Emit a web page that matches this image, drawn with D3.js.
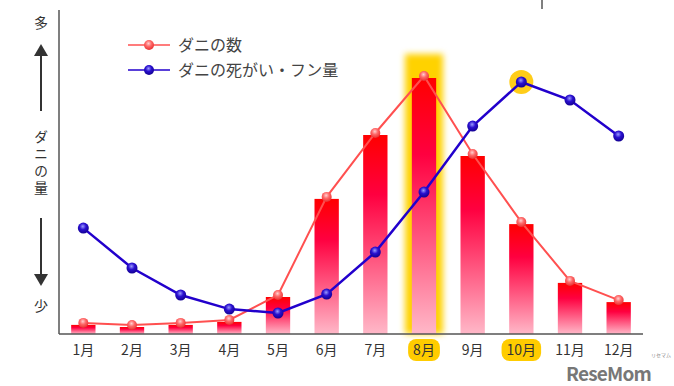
<!DOCTYPE html>
<html>
<meta charset="utf-8">
<style>
  body { margin: 0; background: #fff; }
  text { font-family: "Noto Sans CJK JP", "Noto Sans", sans-serif; }
</style>
<body>
<script src="https://d3js.org/d3.v7.min.js"></script>
<script>
// data (relative amount, 0-100)
var months = ['1月', '2月', '3月', '4月', '5月', '6月', '7月', '8月', '9月', '10月', '11月', '12月'];
var daniCount = [3.7, 3, 3.7, 4.7, 13, 45.7, 67, 86, 60, 37.3, 17.7, 11.3];
var daniDust = [35.3, 22, 13, 8.3, 7, 13.3, 27.3, 47.3, 69.3, 84, 78, 66];
var seriesNames = ['ダニの数', 'ダニの死がい・フン量'];
var highlightBar = '8月';
var highlightPoint = '10月';

var width = 674, height = 386;
var margin = { top: 10, right: 31, bottom: 52, left: 59 };

var svg = d3.select('body').append('svg')
  .attr('width', width)
  .attr('height', height);

var defs = svg.append('defs');

var barGrad = defs.append('linearGradient')
  .attr('id', 'barGrad')
  .attr('x1', 0).attr('y1', 0).attr('x2', 0).attr('y2', 1);
barGrad.append('stop').attr('offset', '0%').attr('stop-color', '#ff0000');
barGrad.append('stop').attr('offset', '30%').attr('stop-color', '#ff0040');
barGrad.append('stop').attr('offset', '100%').attr('stop-color', '#ffb8c8');

function ballGrad(id, light, mid, dark) {
  var g = defs.append('radialGradient').attr('id', id)
    .attr('cx', '45%').attr('cy', '35%').attr('r', '65%');
  g.append('stop').attr('offset', '0%').attr('stop-color', light);
  g.append('stop').attr('offset', '45%').attr('stop-color', mid);
  g.append('stop').attr('offset', '100%').attr('stop-color', dark);
}
ballGrad('redBall', '#ffd0d0', '#ff6a6a', '#e83030');
ballGrad('blueBall', '#9a9aff', '#2a10d0', '#120090');

var glow = defs.append('filter').attr('id', 'glow')
  .attr('x', '-50%').attr('y', '-20%').attr('width', '200%').attr('height', '140%');
glow.append('feGaussianBlur').attr('stdDeviation', 3);

var x = d3.scaleBand()
  .domain(months)
  .range([margin.left, width - margin.right])
  .paddingInner(0.5)
  .paddingOuter(0.25);

var y = d3.scaleLinear()
  .domain([0, 100])
  .range([height - margin.bottom, 34]);

var cx = function(m) { return x(m) + x.bandwidth() / 2; };

// highlight glow behind the August bar
var hb = months.indexOf(highlightBar);
svg.append('rect')
  .attr('x', cx(highlightBar) - 19)
  .attr('y', y(daniCount[hb]) - 22)
  .attr('width', 38)
  .attr('height', y(0) - y(daniCount[hb]) + 22)
  .attr('fill', '#ffd200')
  .attr('filter', 'url(#glow)');

// bars
svg.append('g').selectAll('rect')
  .data(daniCount)
  .join('rect')
  .attr('x', function(d, i) { return x(months[i]); })
  .attr('y', function(d) { return y(d) + 2; })
  .attr('width', x.bandwidth())
  .attr('height', function(d) { return y(0) - y(d) - 2; })
  .attr('fill', 'url(#barGrad)');

// axes lines
svg.append('line')
  .attr('x1', margin.left).attr('x2', margin.left)
  .attr('y1', margin.top).attr('y2', y(0))
  .attr('stroke', '#555').attr('stroke-width', 1.5);
svg.append('line')
  .attr('x1', margin.left).attr('x2', width - margin.right)
  .attr('y1', y(0)).attr('y2', y(0))
  .attr('stroke', '#555').attr('stroke-width', 1.5);

var line = d3.line()
  .x(function(d, i) { return cx(months[i]); })
  .y(function(d) { return y(d); });

// yellow circle behind the October point
var hp = months.indexOf(highlightPoint);
svg.append('circle')
  .attr('cx', cx(highlightPoint))
  .attr('cy', y(daniDust[hp]))
  .attr('r', 12)
  .attr('fill', '#ffc800')
  .attr('opacity', 0.9);

svg.append('path')
  .datum(daniCount)
  .attr('d', line)
  .attr('fill', 'none')
  .attr('stroke', '#ff5050')
  .attr('stroke-width', 2);

svg.append('path')
  .datum(daniDust)
  .attr('d', line)
  .attr('fill', 'none')
  .attr('stroke', '#2200cc')
  .attr('stroke-width', 2.5);

svg.append('g').selectAll('circle')
  .data(daniCount)
  .join('circle')
  .attr('cx', function(d, i) { return cx(months[i]); })
  .attr('cy', function(d) { return y(d); })
  .attr('r', 5)
  .attr('fill', 'url(#redBall)');

svg.append('g').selectAll('circle')
  .data(daniDust)
  .join('circle')
  .attr('cx', function(d, i) { return cx(months[i]); })
  .attr('cy', function(d) { return y(d); })
  .attr('r', 5.5)
  .attr('fill', 'url(#blueBall)');

// month labels
var xl = svg.append('g').selectAll('g')
  .data(months)
  .join('g')
  .attr('transform', function(d) { return 'translate(' + cx(d) + ',' + (y(0) + 16) + ')'; });

var pill = xl.filter(function(d) { return d === highlightBar || d === highlightPoint; })
  .append('rect')
  .attr('y', -11)
  .attr('height', 22)
  .attr('rx', 8)
  .attr('fill', '#ffcc00');

xl.append('text')
  .attr('text-anchor', 'middle')
  .attr('dy', '0.35em')
  .attr('font-size', 14)
  .attr('fill', '#333')
  .text(function(d) { return d; });

pill.each(function() {
  var w = this.parentNode.querySelector('text').getComputedTextLength() + 10;
  d3.select(this).attr('x', -w / 2).attr('width', w);
});

// y axis label with arrows
var yl = svg.append('g').attr('fill', '#333').attr('font-size', 14);
yl.append('text').attr('x', 41).attr('y', 23).attr('text-anchor', 'middle').attr('dy', '0.35em').text('多');
yl.append('text').attr('x', 41).attr('y', 306).attr('text-anchor', 'middle').attr('dy', '0.35em').text('少');
yl.append('text')
  .attr('x', 41).attr('y', 130)
  .attr('writing-mode', 'tb')
  .attr('glyph-orientation-vertical', 0)
  .attr('text-anchor', 'start')
  .attr('letter-spacing', 3)
  .text('ダニの量');

var arrows = svg.append('g').attr('stroke', '#333').attr('stroke-width', 2);
arrows.append('line').attr('x1', 41).attr('x2', 41).attr('y1', 55).attr('y2', 111);
arrows.append('line').attr('x1', 41).attr('x2', 41).attr('y1', 218).attr('y2', 275);
svg.append('path').attr('d', 'M34,56 L41,44 L48,56 Z').attr('fill', '#333');
svg.append('path').attr('d', 'M34,274 L41,286 L48,274 Z').attr('fill', '#333');

// legend
var legend = svg.append('g').selectAll('g')
  .data(seriesNames)
  .join('g')
  .attr('transform', function(d, i) { return 'translate(128,' + (45 + i * 25) + ')'; });
legend.append('line')
  .attr('x1', 0).attr('x2', 42)
  .attr('stroke', function(d, i) { return i ? '#2200cc' : '#ff5050'; })
  .attr('stroke-width', 1.5);
legend.append('circle')
  .attr('cx', 21).attr('r', 5)
  .attr('fill', function(d, i) { return i ? 'url(#blueBall)' : 'url(#redBall)'; });
legend.append('text')
  .attr('x', 50)
  .attr('dy', '0.35em')
  .attr('font-size', 16)
  .attr('fill', '#444')
  .text(function(d) { return d; });

// watermark
svg.append('text')
  .attr('x', 566).attr('y', 381)
  .attr('font-family', 'Roboto, sans-serif')
  .attr('font-weight', 'bold')
  .attr('font-size', 19)
  .attr('letter-spacing', -0.8)
  .attr('fill', '#777')
  .text('ReseMom');
svg.append('text')
  .attr('x', 661).attr('y', 357)
  .attr('text-anchor', 'middle')
  .attr('font-size', 5)
  .attr('fill', '#888')
  .text('リセマム');

svg.append('line')
  .attr('x1', 542).attr('x2', 542).attr('y1', 0).attr('y2', 9)
  .attr('stroke', '#000').attr('stroke-width', 1);
</script>
</body>
</html>
